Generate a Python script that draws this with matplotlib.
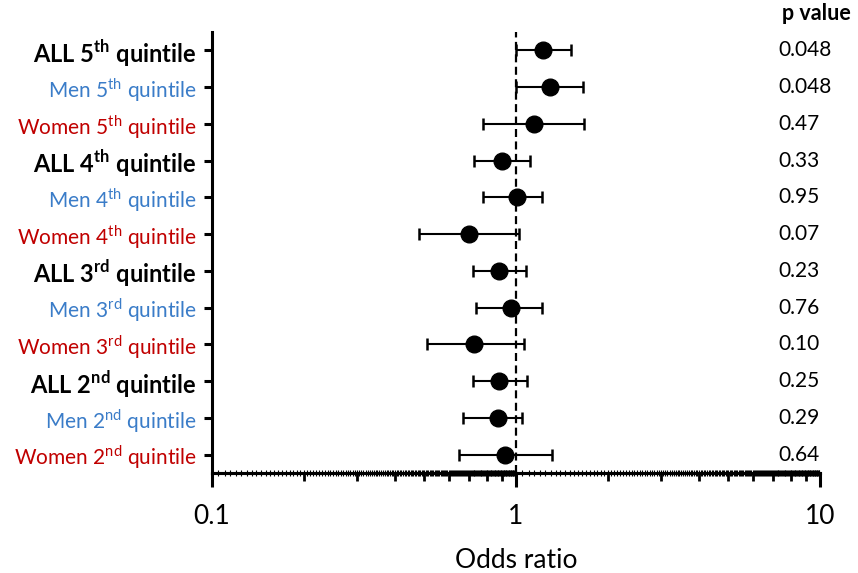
import numpy as np
import matplotlib
matplotlib.use("Agg")
import matplotlib.pyplot as plt
import matplotlib.transforms as mtransforms

plt.rcParams["font.family"] = ["Lato", "DejaVu Sans"]
plt.rcParams["mathtext.fontset"] = "custom"
plt.rcParams["mathtext.rm"] = "Lato"
plt.rcParams["mathtext.bf"] = "Lato:bold"

# rows from top to bottom
groups = ["ALL", "Men", "Women"] * 4
quintiles = ["5", "5", "5", "4", "4", "4", "3", "3", "3", "2", "2", "2"]
suffixes = {"5": "th", "4": "th", "3": "rd", "2": "nd"}
odds = [1.23, 1.29, 1.15, 0.90, 1.005, 0.70, 0.88, 0.96, 0.73, 0.88, 0.87, 0.92]
ci_low = [1.00, 1.00, 0.78, 0.73, 0.78, 0.48, 0.72, 0.74, 0.51, 0.72, 0.67, 0.65]
ci_high = [1.52, 1.66, 1.67, 1.11, 1.22, 1.02, 1.08, 1.22, 1.06, 1.09, 1.05, 1.31]
p_values = ["0.048", "0.048", "0.47", "0.33", "0.95", "0.07",
            "0.23", "0.76", "0.10", "0.25", "0.29", "0.64"]

group_colors = {"ALL": "black", "Men": "#3a7cc8", "Women": "#c00000"}

fig = plt.figure(figsize=(8.58, 5.73), dpi=100)
ax = fig.add_axes([0.2471, 0.1745, 0.7086, 0.7697])

n = len(odds)
ypos = np.arange(n)[::-1] + 1
odds_a = np.array(odds)
err = [odds_a - np.array(ci_low), np.array(ci_high) - odds_a]

ax.axvline(1, color="black", linestyle=(0, (3.6, 2.0)), linewidth=1.6, zorder=1)
ax.errorbar(odds, ypos, xerr=err, fmt="o", color="black", ecolor="black",
            elinewidth=1.5, capsize=4.5, capthick=1.8, markersize=12, zorder=3)

ax.set_xscale("log")
ax.set_xlim(0.1, 10)
ax.set_ylim(0.5, n + 0.5)

ax.set_xticks([0.1, 1, 10])
ax.set_xticklabels(["0.1", "1", "10"])
ax.set_xticks([k * d for d in (0.1, 1) for k in range(2, 10)], minor=True)
ax.xaxis.set_minor_formatter(plt.NullFormatter())
ax.tick_params(axis="x", which="major", length=10, width=2.2, labelsize=19, pad=12)
ax.tick_params(axis="x", which="minor", length=6, width=2.0)

# dense ruler ticks along the x axis
fine = np.concatenate([np.arange(0.1, 1.0, 0.005), np.arange(1.0, 10.0, 0.05)])
sec = ax.secondary_xaxis("bottom")
sec.set_xticks(fine)
sec.set_xticklabels([])
sec.tick_params(axis="x", which="major", length=5, width=0.8, direction="inout")
sec.tick_params(axis="x", which="minor", length=0)
sec.spines["bottom"].set_linewidth(2.2)

labels = [f"{g} {q}$^{{\\mathrm{{{suffixes[q]}}}}}$ quintile" if g != "ALL"
          else f"{g} {q}$^{{\\mathbf{{{suffixes[q]}}}}}$ quintile"
          for g, q in zip(groups, quintiles)]
ax.set_yticks(ypos)
ax.set_yticklabels(labels)
ax.tick_params(axis="y", length=6, width=2.2, pad=5, labelsize=15)
for lab, g in zip(ax.get_yticklabels(), groups):
    lab.set_color(group_colors[g])
    if g == "ALL":
        lab.set_fontweight("bold")
        lab.set_fontsize(17)

for side in ("top", "right"):
    ax.spines[side].set_visible(False)
ax.spines["left"].set_linewidth(2.2)
ax.spines["bottom"].set_linewidth(2.2)

trans = mtransforms.blended_transform_factory(ax.transAxes, ax.transData)
for y, p in zip(ypos, p_values):
    ax.text(0.932, y, p, transform=trans, ha="left", va="center", fontsize=15)
ax.text(0.937, n + 1.0, "p value", transform=trans, ha="left", va="center",
        fontsize=15.5, fontweight="bold", clip_on=False)

ax.set_xlabel("Odds ratio", fontsize=19, labelpad=14)

fig.savefig("out.png", dpi=100, facecolor="white")
